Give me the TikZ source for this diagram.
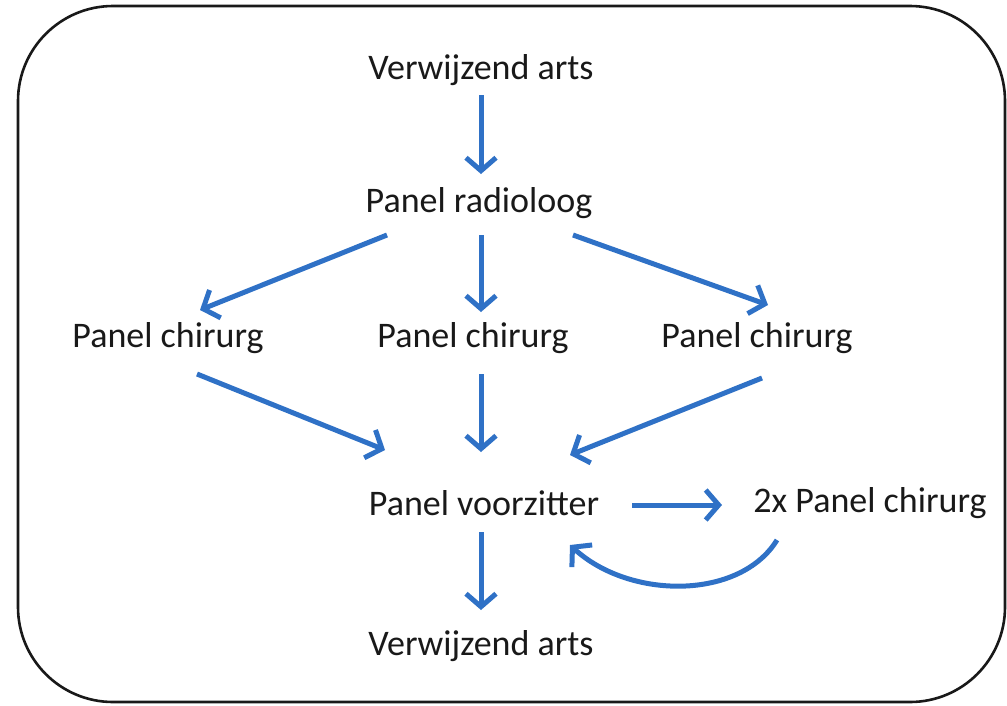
\documentclass[tikz,border=0pt]{standalone}
\usepackage{fontspec}
\setmainfont{Carlito}
\usetikzlibrary{arrows.meta,calc}
\definecolor{arrowblue}{RGB}{47,113,198}
\definecolor{txt}{RGB}{25,25,25}
\begin{document}
\begin{tikzpicture}[x=1pt,y=-1pt,
  lbl/.style={font=\fontsize{36}{40}\selectfont, text=txt, inner sep=0pt},
  conn/.style={draw=arrowblue, line width=5pt, -{Straight Barb[length=13pt,width=30pt,line width=5pt]}},
  frame/.style={draw=black!90, line width=2.6pt, rounded corners=95pt}]
\useasboundingbox (0,0) rectangle (1007,705);
\draw[frame] (18,6) rectangle (1005,702);
\node[lbl] (va1) at (481,70) {Verwijzend arts};
\node[lbl] (rad) at (479,203) {Panel radioloog};
\node[lbl] (ch1) at (168,338) {Panel chirurg};
\node[lbl] (ch2) at (473,338) {Panel chirurg};
\node[lbl] (ch3) at (757,338) {Panel chirurg};
\node[lbl] (vz) at (484,503) {Panel voorzitter};
\node[lbl] (tc) at (870,503) {2x Panel chirurg};
\node[lbl] (va2) at (481,646) {Verwijzend arts};
\draw[conn] ($(va1)+(0,25)$) -- ($(rad)+(2,-29)$);
\draw[conn] ($(rad)+(-92,32)$) -- ($(ch1)+(32,-28)$);
\draw[conn] ($(rad)+(2,32)$) -- ($(ch2)+(8,-26)$);
\draw[conn] ($(rad)+(94,32)$) -- ($(ch3)+(11,-33)$);
\draw[conn] ($(ch1)+(29,36)$) -- ($(vz)+(-99,-53)$);
\draw[conn] ($(ch2)+(8,36)$) -- ($(vz)+(-3,-51)$);
\draw[conn] ($(ch3)+(5,40)$) -- ($(vz)+(86,-48)$);
\draw[conn] ($(vz)+(148,2)$) -- ($(tc)+(-148,2)$);
\draw[conn] ($(tc)+(-93,37)$) .. controls ($(tc)+(-130,97)$) and ($(vz)+(146,97)$) .. ($(vz)+(86,42)$);
\draw[conn] ($(vz)+(-3,29)$) -- ($(va2)+(0,-36)$);
\end{tikzpicture}
\end{document}
